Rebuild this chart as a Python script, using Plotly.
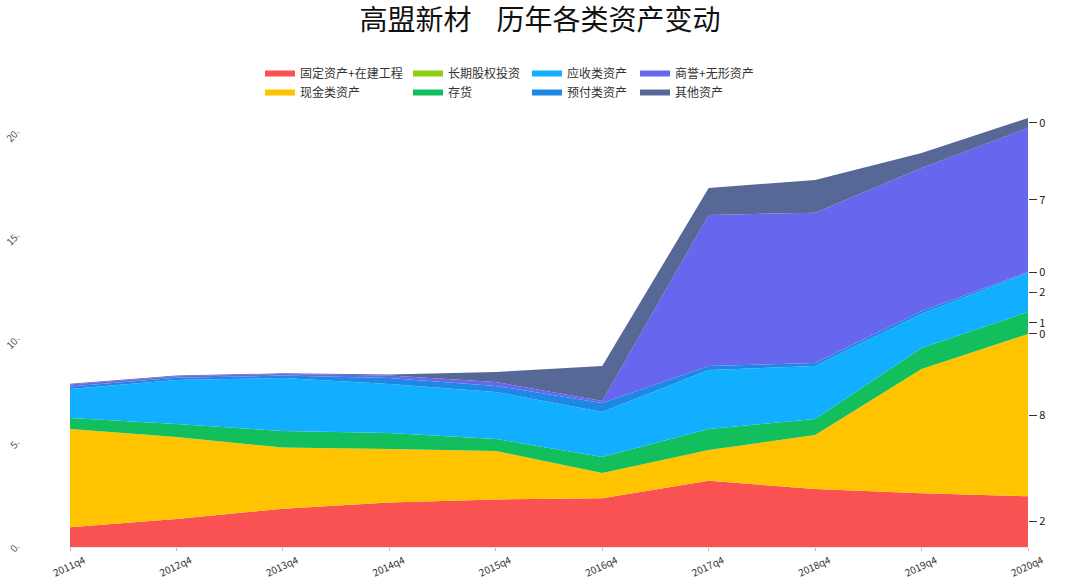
import plotly.graph_objects as go

quarters = ["2011q4", "2012q4", "2013q4", "2014q4", "2015q4",
            "2016q4", "2017q4", "2018q4", "2019q4", "2020q4"]

fixed_assets = [0.95, 1.35, 1.85, 2.15, 2.30, 2.35, 3.20, 2.80, 2.60, 2.45]
cash_assets = [4.75, 3.96, 2.95, 2.58, 2.34, 1.22, 1.49, 2.61, 6.00, 7.84]
lt_equity = [0, 0, 0, 0, 0, 0, 0, 0, 0, 0]
inventory = [0.53, 0.63, 0.80, 0.78, 0.58, 0.78, 1.01, 0.77, 1.01, 1.06]
receivables = [1.40, 2.13, 2.56, 2.36, 2.27, 2.17, 2.85, 2.56, 1.65, 1.89]
prepaid = [0.12, 0.10, 0.12, 0.29, 0.29, 0.44, 0.19, 0.15, 0.14, 0.04]
goodwill = [0.10, 0.08, 0.08, 0.12, 0.19, 0.09, 7.30, 7.25, 6.91, 6.96]
other_assets = [0.03, 0.03, 0.03, 0.05, 0.48, 1.69, 1.30, 1.59, 0.72, 0.48]

series_names = ["固定资产+在建工程", "现金类资产", "长期股权投资", "存货",
                "应收类资产", "预付类资产", "商誉+无形资产", "其他资产"]
series_values = [fixed_assets, cash_assets, lt_equity, inventory,
                 receivables, prepaid, goodwill, other_assets]
colors = ["#FA5252", "#FFC300", "#8FCC14", "#13BF5C",
          "#12AEFF", "#1E88E5", "#6666EE", "#556896"]
legend_ids = ["legend", "legend", "legend2", "legend2",
              "legend3", "legend3", "legend4", "legend4"]

title_text = "高盟新材&nbsp;&nbsp;&nbsp;&nbsp;历年各类资产变动"
FONT = "Noto Sans CJK SC, Noto Sans, sans-serif"

fig = go.Figure()
for name, vals, col, lg in zip(series_names, series_values, colors, legend_ids):
    fig.add_trace(go.Scatter(
        x=quarters, y=vals, name=name, stackgroup="one", mode="none",
        fillcolor=col, legend=lg, hoverinfo="x+y+name"))

# right axis: value of each layer at the last period, placed at band middle
cum = 0.0
r_vals, r_text = [], []
for vals in series_values:
    v = vals[-1]
    r_vals.append(cum + v / 2)
    r_text.append(str(round(v)))
    cum += v
total_max = max(sum(s[i] for s in series_values) for i in range(len(quarters)))

fig.add_trace(go.Scatter(x=[quarters[0]], y=[0], yaxis="y2", mode="markers",
                         marker=dict(opacity=0), showlegend=False, hoverinfo="skip"))

W, H = 1080, 580
ml, mr, mt, mb = 20, 52, 118, 33
plot_w = W - ml - mr
x0 = (70 - ml) / plot_w

legend_common = dict(orientation="v", xref="container", yref="container",
                     xanchor="left", yanchor="top", traceorder="normal",
                     itemwidth=30, font=dict(family=FONT, size=12, color="#333"),
                     bgcolor="rgba(0,0,0,0)", tracegroupgap=0)
leg_x = [260, 408, 527, 635]
leg_y = 1 - 59 / H

fig.update_layout(
    template="none",
    width=W, height=H,
    margin=dict(l=ml, r=mr, t=mt, b=mb, autoexpand=False),
    paper_bgcolor="white", plot_bgcolor="white",
    font=dict(family=FONT),
    title=dict(text=title_text, x=0.5, xanchor="center", xref="container",
               y=1 - 20 / H, yanchor="middle", yref="container",
               font=dict(family=FONT, size=28, color="#111")),
    xaxis=dict(type="category", domain=[x0, 1], range=[0, len(quarters) - 1],
               automargin=False,
               tickangle=-25, tickfont=dict(size=10, color="#333"),
               ticks="outside", ticklen=3, tickcolor="#bbb",
               ticklabelshift=14,
               showline=True, linecolor="#e6e6e6", showgrid=False, zeroline=False),
    yaxis=dict(range=[0, total_max], anchor="free", position=0, automargin=False,
               tickvals=[0, 5, 10, 15, 20], tickangle=-45,
               tickfont=dict(size=10, color="#555"),
               ticks="outside", ticklen=3, tickcolor="#bbb",
               showline=False, showgrid=False, zeroline=False),
    yaxis2=dict(range=[0, total_max], overlaying="y", side="right", anchor="x",
                automargin=False,
                tickvals=r_vals, ticktext=r_text,
                tickfont=dict(size=11, color="#222"),
                ticks="outside", ticklen=8, tickcolor="#333",
                showline=False, showgrid=False, zeroline=False),
    legend=dict(x=leg_x[0] / W, y=leg_y, **legend_common),
    legend2=dict(x=leg_x[1] / W, y=leg_y, **legend_common),
    legend3=dict(x=leg_x[2] / W, y=leg_y, **legend_common),
    legend4=dict(x=leg_x[3] / W, y=leg_y, **legend_common),
)

fig.write_html("out.html", config={"displayModeBar": False},
               post_script="document.body.style.margin='0px';document.body.style.overflow='hidden';")
